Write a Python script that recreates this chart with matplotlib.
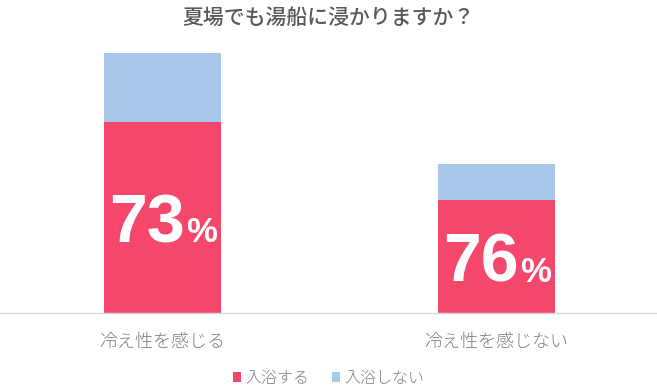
import matplotlib.pyplot as plt
import numpy as np

plt.rcParams['font.family'] = ['Noto Sans CJK JP', 'DejaVu Sans']

# data (heights, arbitrary units)
categories = ['冷え性を感じる', '冷え性を感じない']
bathe = [191, 113]      # 入浴する
no_bathe = [69, 36]     # 入浴しない
series_names = ['入浴する', '入浴しない']

RED = '#F5476B'
BLUE = '#A7C8EA'
GRAY = '#595959'
LIGHT = '#7F7F7F'

fig = plt.figure(figsize=(6.57, 3.92), dpi=100)
ax = fig.add_axes([0, 79 / 392, 1, 273 / 392])

x = np.arange(len(categories))
w = 0.35
b1 = ax.bar(x, bathe, w, color=RED, label=series_names[0])
b2 = ax.bar(x, no_bathe, w, bottom=bathe, color=BLUE, label=series_names[1])

ax.set_xlim(-0.4865, 1.4805)
ax.set_ylim(0, 273)
ax.set_yticks([])
ax.set_xticks([])
for s in ['top', 'right', 'left']:
    ax.spines[s].set_visible(False)
ax.spines['bottom'].set_color('#D9D9D9')
ax.spines['bottom'].set_linewidth(1)

# percentage labels inside the red segments
for i in range(len(categories)):
    pct = round(100 * bathe[i] / (bathe[i] + no_bathe[i]))
    ax.annotate(str(pct), xy=(x[i], bathe[i] / 2), xytext=(16, -18),
                textcoords='offset points', ha='right', va='baseline',
                color='white', fontsize=49, fontweight='bold',
                family='Liberation Sans')
    ax.annotate('%', xy=(x[i], bathe[i] / 2), xytext=(17, -18),
                textcoords='offset points', ha='left', va='baseline',
                color='white', fontsize=25, fontweight='bold',
                family='Liberation Sans')

# category labels
for i, c in enumerate(categories):
    ax.annotate(c, xy=(x[i], 0), xytext=(0, -21), textcoords='offset points',
                ha='center', va='center', color=LIGHT, fontsize=13,
                fontweight='light')

fig.text(0.5, 1 - 18 / 392, '夏場でも湯船に浸かりますか？', ha='center', va='center',
         color=GRAY, fontsize=15, fontweight='medium')

fig.legend(handles=[b1, b2], labels=series_names, loc='center',
           bbox_to_anchor=(0.5, 1 - 378 / 392), ncol=2, frameon=False,
           labelcolor=LIGHT, handlelength=0.55, handleheight=0.55,
           handletextpad=0.25, columnspacing=1.4,
           prop={'weight': 'light', 'size': 11.5})

fig.savefig('out.png', dpi=100)
